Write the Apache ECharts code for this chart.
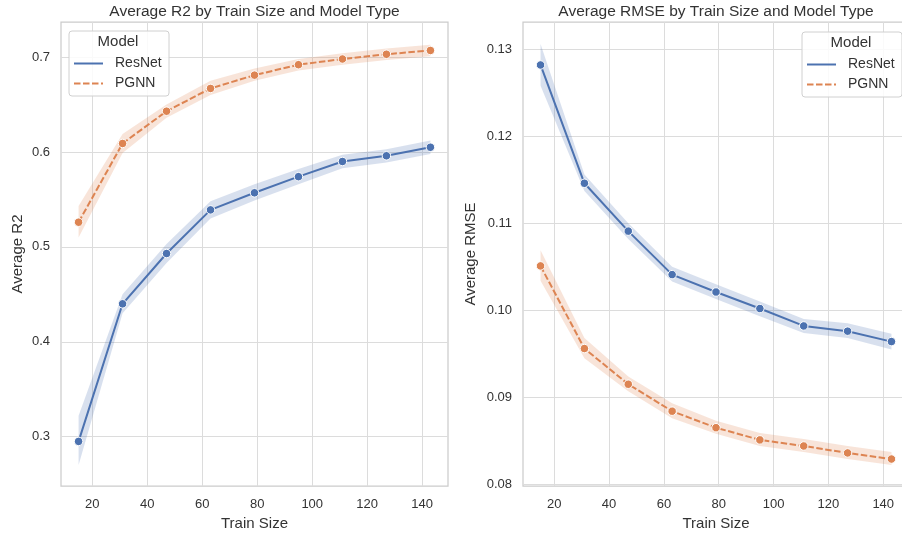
<!DOCTYPE html>
<html>
<head>
<meta charset="utf-8">
<script src="https://cdn.jsdelivr.net/npm/echarts@6/dist/echarts.min.js"></script>
<style>html,body{margin:0;padding:0;background:#fff}#c{width:902px;height:533px}</style>
</head>
<body>
<div id="c"></div>
<script>
var trainSizes = [15, 31, 47, 63, 79, 95, 111, 127, 143];

var r2ResNet   = [0.295, 0.440, 0.493, 0.539, 0.557, 0.574, 0.590, 0.596, 0.605];
var r2ResNetLo = [0.270, 0.430, 0.483, 0.530, 0.549, 0.566, 0.583, 0.589, 0.598];
var r2ResNetHi = [0.322, 0.450, 0.503, 0.548, 0.566, 0.582, 0.597, 0.603, 0.612];

var r2PGNN   = [0.526, 0.609, 0.643, 0.667, 0.681, 0.692, 0.698, 0.703, 0.707];
var r2PGNNLo = [0.510, 0.599, 0.636, 0.660, 0.675, 0.686, 0.692, 0.697, 0.701];
var r2PGNNHi = [0.543, 0.619, 0.650, 0.675, 0.688, 0.698, 0.704, 0.709, 0.713];

var rmseResNet   = [0.1282, 0.1146, 0.1091, 0.1041, 0.1021, 0.1002, 0.0982, 0.0976, 0.0964];
var rmseResNetLo = [0.1258, 0.1137, 0.1082, 0.1033, 0.1013, 0.0993, 0.0974, 0.0968, 0.0955];
var rmseResNetHi = [0.1306, 0.1156, 0.1100, 0.1050, 0.1030, 0.1010, 0.0990, 0.0985, 0.0973];

var rmsePGNN   = [0.1051, 0.0956, 0.0915, 0.0884, 0.0865, 0.0851, 0.0844, 0.0836, 0.0829];
var rmsePGNNLo = [0.1034, 0.0945, 0.0907, 0.0876, 0.0858, 0.0844, 0.0837, 0.0829, 0.0822];
var rmsePGNNHi = [0.1069, 0.0968, 0.0924, 0.0893, 0.0873, 0.0859, 0.0852, 0.0844, 0.0837];

var xTicks = [20, 40, 60, 80, 100, 120, 140];
var r2Ticks = [0.3, 0.4, 0.5, 0.6, 0.7];
var rmseTicks = [0.08, 0.09, 0.10, 0.11, 0.12, 0.13];

var modelNames = ['ResNet', 'PGNN'];
var lineColors = ['#4c72b0', '#dd8452'];
var bandColors = ['rgba(76,114,176,0.22)', 'rgba(221,132,82,0.22)'];

var FONT = 'Liberation Sans, Arial, sans-serif';
var TXT = '#333333';

function pairs(ys) { return trainSizes.map(function (x, i) { return [x, ys[i]]; }); }
function bandRows(lo, hi) { return trainSizes.map(function (x, i) { return [x, lo[i], hi[i]]; }); }

function bandRender(mi) {
  return function (params, api) {
    if (params.dataIndexInside !== 0) return null;
    var n = params.dataInsideLength;
    var upper = [], lower = [];
    for (var i = 0; i < n; i++) {
      upper.push(api.coord([api.value(0, i), api.value(2, i)]));
      lower.push(api.coord([api.value(0, i), api.value(1, i)]));
    }
    var pts = upper.concat(lower.reverse());
    return {
      type: 'polygon',
      shape: { points: pts },
      style: { fill: bandColors[mi], stroke: null },
      silent: true
    };
  };
}

function seriesFor(gi, mi, mean, lo, hi) {
  return [
    { type: 'custom', xAxisIndex: gi, yAxisIndex: gi, data: bandRows(lo, hi),
      encode: { x: 0, y: [1, 2] }, renderItem: bandRender(mi), clip: true, silent: true, z: 1 },
    { type: 'line', name: modelNames[mi], xAxisIndex: gi, yAxisIndex: gi, data: pairs(mean),
      symbol: 'circle', symbolSize: 8.5,
      itemStyle: { color: lineColors[mi], borderColor: '#ffffff', borderWidth: 1 },
      lineStyle: { color: lineColors[mi], width: 2, type: mi === 1 ? [6.5, 2.5] : 'solid' },
      z: 3 }
  ];
}

function xAxisFor(gi) {
  return {
    type: 'value', gridIndex: gi, min: 8.6, max: 149.4,
    name: 'Train Size', nameLocation: 'middle', nameGap: 29,
    nameTextStyle: { fontFamily: FONT, fontSize: 15, color: TXT },
    axisLine: { show: false },
    axisTick: { show: false, customValues: xTicks },
    axisLabel: { customValues: xTicks, margin: 12, fontFamily: FONT, fontSize: 13, color: TXT },
    splitLine: { show: true, lineStyle: { color: '#dcdcdc', width: 1 } }
  };
}

function yAxisFor(gi, name, mn, mx, ticks, gap, dec) {
  return {
    type: 'value', gridIndex: gi, min: mn, max: mx,
    name: name, nameLocation: 'middle', nameGap: gap,
    nameTextStyle: { fontFamily: FONT, fontSize: 15, color: TXT },
    axisLine: { show: false },
    axisTick: { show: false, customValues: ticks },
    axisLabel: { customValues: ticks, margin: 11, fontFamily: FONT, fontSize: 13, color: TXT,
      formatter: function (v) { return v.toFixed(dec); } },
    splitLine: { show: true, lineStyle: { color: '#dcdcdc', width: 1 } }
  };
}

function legendGroup(bx, by) {
  var els = [
    { type: 'rect', shape: { x: bx, y: by, width: 100, height: 65, r: 3 },
      style: { fill: 'rgba(255,255,255,0.85)', stroke: '#d0d0d0', lineWidth: 1 }, z: 10 },
    { type: 'text', style: { x: bx + 49, y: by + 11, text: 'Model', font: '15px ' + FONT, fill: TXT,
      align: 'center', verticalAlign: 'middle' }, z: 11 }
  ];
  modelNames.forEach(function (n, i) {
    var yy = by + 32.5 + i * 20;
    els.push({ type: 'line', shape: { x1: bx + 5, y1: yy, x2: bx + 34, y2: yy },
      style: { stroke: lineColors[i], lineWidth: 2, lineDash: i === 1 ? [6.5, 2.5] : null }, z: 11 });
    els.push({ type: 'text', style: { x: bx + 46, y: yy, text: n, font: '14px ' + FONT, fill: TXT,
      align: 'left', verticalAlign: 'middle' }, z: 11 });
  });
  return els;
}

var chart = echarts.init(document.getElementById('c'), null, { renderer: 'canvas' });
var series = []
  .concat(seriesFor(0, 0, r2ResNet, r2ResNetLo, r2ResNetHi))
  .concat(seriesFor(0, 1, r2PGNN, r2PGNNLo, r2PGNNHi))
  .concat(seriesFor(1, 0, rmseResNet, rmseResNetLo, rmseResNetHi))
  .concat(seriesFor(1, 1, rmsePGNN, rmsePGNNLo, rmsePGNNHi));

chart.setOption({
  animation: false,
  backgroundColor: '#ffffff',
  title: [
    { text: 'Average R2 by Train Size and Model Type', left: 254.5, top: 4, textAlign: 'center', padding: 0,
      textStyle: { fontFamily: FONT, fontSize: 15.5, fontWeight: 'normal', color: TXT } },
    { text: 'Average RMSE by Train Size and Model Type', left: 716, top: 4, textAlign: 'center', padding: 0,
      textStyle: { fontFamily: FONT, fontSize: 15.5, fontWeight: 'normal', color: TXT } }
  ],
  grid: [
    { left: 61, top: 22, width: 387, height: 464, outerBoundsMode: 'none', containLabel: false,
      show: true, borderColor: '#cccccc', borderWidth: 1.25, backgroundColor: 'transparent' },
    { left: 523, top: 22, width: 386, height: 464, outerBoundsMode: 'none', containLabel: false,
      show: true, borderColor: '#cccccc', borderWidth: 1.25, backgroundColor: 'transparent' }
  ],
  xAxis: [xAxisFor(0), xAxisFor(1)],
  yAxis: [
    yAxisFor(0, 'Average R2', 0.248, 0.737, r2Ticks, 36, 1),
    yAxisFor(1, 'Average RMSE', 0.0798, 0.13314, rmseTicks, 45, 2)
  ],
  series: series,
  graphic: legendGroup(69, 31).concat(legendGroup(802, 32))
});
</script>
</body>
</html>
